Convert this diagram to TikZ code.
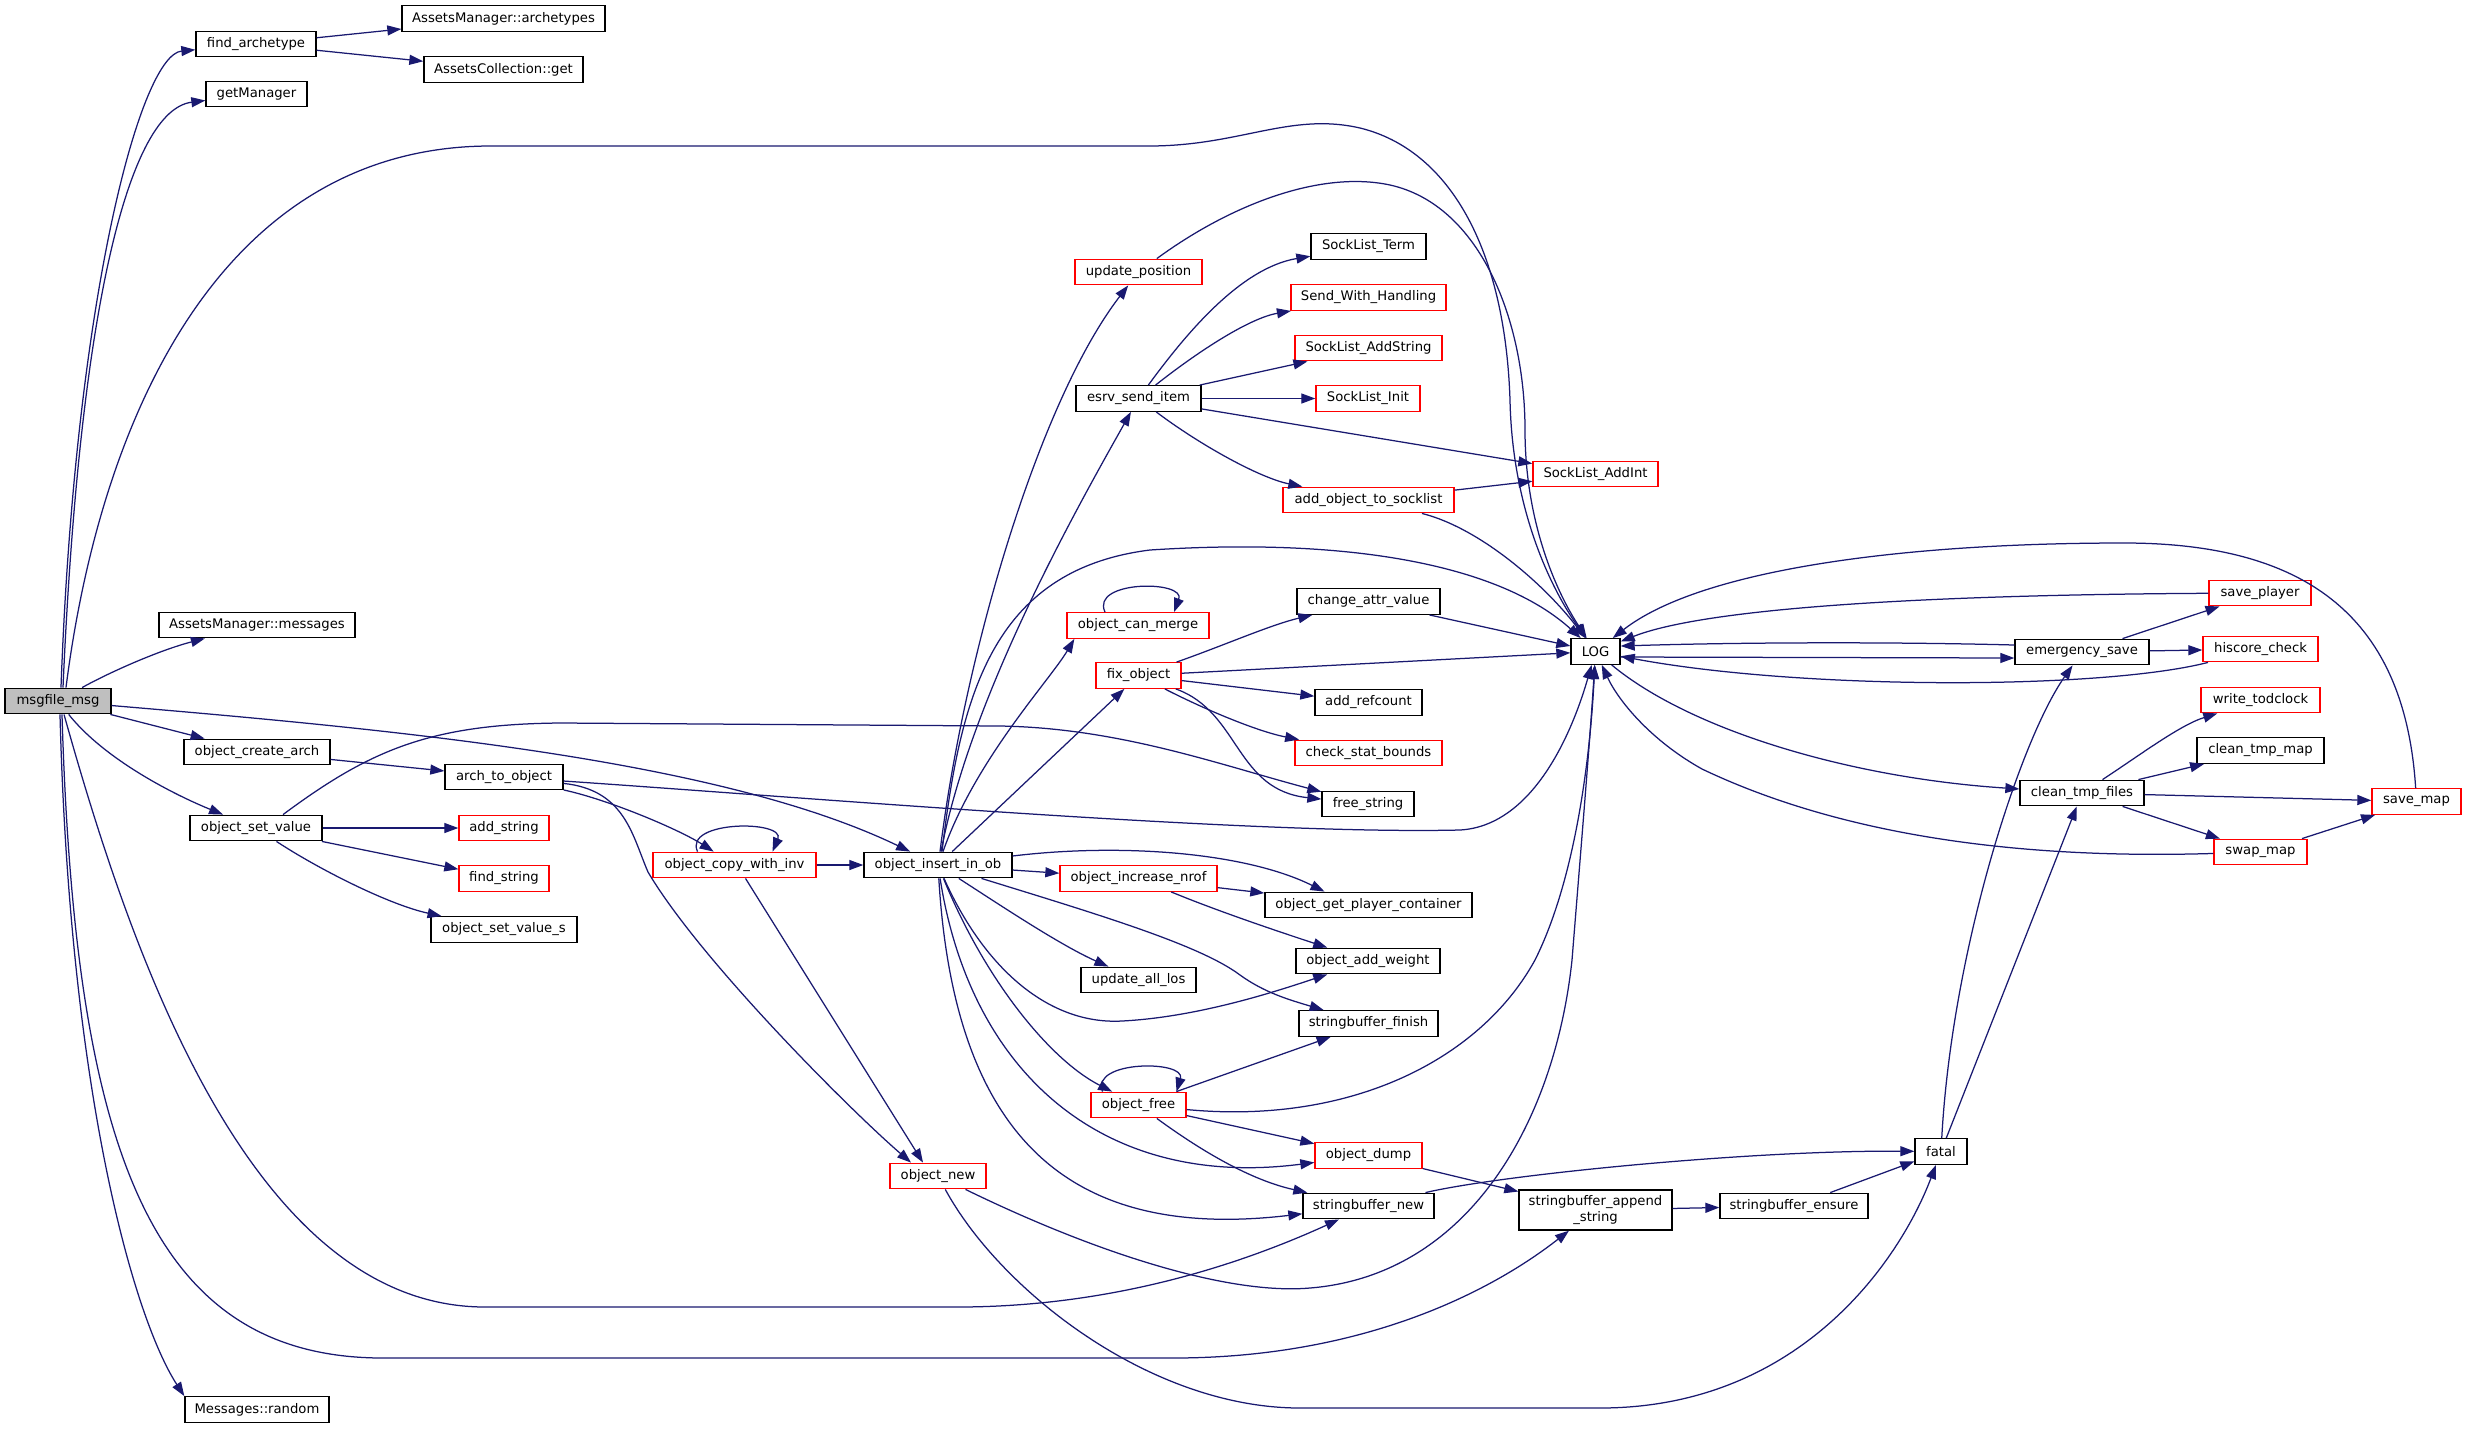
\documentclass[tikz,border=0pt]{standalone}
\usepackage{fontspec}
\setmainfont{DejaVu Sans}
\usetikzlibrary{arrows.meta}
\definecolor{midnight}{HTML}{191970}
\definecolor{nodegray}{HTML}{BFBFBF}
\tikzset{
  fn/.style={draw=black, fill=white, line width=1.35pt, minimum height=25.5pt, inner sep=0pt,
    font=\fontsize{13.2pt}{15.5pt}\selectfont},
  fnr/.style={fn, draw=red},
  edge/.style={draw=midnight, line width=1.25pt, -{Triangle[length=14pt,width=10pt]}},
}
\begin{document}
\begin{tikzpicture}[x=1pt,y=-1pt]
\fill[white] (0,0) rectangle (2467,1428);
\useasboundingbox (0,0) rectangle (2467,1428);

% ---------------- nodes ----------------
\node[fn, minimum width=120pt] (fa) at (256,44) {find\_archetype};
\node[fn, minimum width=203pt] (ama) at (503.5,18.5) {AssetsManager::archetypes};
\node[fn, minimum width=159pt] (acg) at (503.5,69.5) {AssetsCollection::get};
\node[fn, minimum width=101pt] (gm) at (256.5,94) {getManager};
\node[fn, minimum width=196pt] (amm) at (257,625) {AssetsManager::messages};
\node[fn, fill=nodegray, minimum width=106pt] (msg) at (58,701) {msgfile\_msg};
\node[fn, minimum width=146pt] (oca) at (257,752) {object\_create\_arch};
\node[fn, minimum width=118pt] (ato) at (504,777) {arch\_to\_object};
\node[fn, minimum width=132pt] (osv) at (256,828) {object\_set\_value};
\node[fnr, minimum width=90pt] (as) at (504,828) {add\_string};
\node[fnr, minimum width=90pt] (fs) at (504,878.5) {find\_string};
\node[fn, minimum width=146pt] (osvs) at (504,929.5) {object\_set\_value\_s};
\node[fnr, minimum width=163pt] (ocwi) at (734.5,865) {object\_copy\_with\_inv};
\node[fn, minimum width=148pt] (oiio) at (938,865) {object\_insert\_in\_ob};
\node[fnr, minimum width=96pt] (onew) at (938,1176) {object\_new};
\node[fn, minimum width=144pt] (mr) at (257,1409.5) {Messages::random};
\node[fnr, minimum width=127pt] (up) at (1138.5,272) {update\_position};
\node[fn, minimum width=125pt] (esi) at (1138.5,398.5) {esrv\_send\_item};
\node[fn, minimum width=115pt] (slt) at (1368.5,246.5) {SockList\_Term};
\node[fnr, minimum width=155pt] (swh) at (1368.5,297.5) {Send\_With\_Handling};
\node[fnr, minimum width=147pt] (slas) at (1368.5,348) {SockList\_AddString};
\node[fnr, minimum width=104pt] (sli) at (1368,398.5) {SockList\_Init};
\node[fnr, minimum width=125pt] (slai) at (1595.5,474) {SockList\_AddInt};
\node[fnr, minimum width=171pt] (aots) at (1368.5,500) {add\_object\_to\_socklist};
\node[fn, minimum width=49pt] (lg) at (1595.5,651.5) {LOG};
\node[fn, minimum width=143pt] (cav) at (1368.5,601.5) {change\_attr\_value};
\node[fnr, minimum width=142pt] (ocm) at (1138,625.5) {object\_can\_merge};
\node[fnr, minimum width=85pt] (fo) at (1138.5,675.5) {fix\_object};
\node[fn, minimum width=107pt] (arc) at (1368.5,702.5) {add\_refcount};
\node[fnr, minimum width=147pt] (csb) at (1368.5,753) {check\_stat\_bounds};
\node[fn, minimum width=92pt] (fstr) at (1368,804) {free\_string};
\node[fnr, minimum width=157pt] (oin) at (1138.5,878.5) {object\_increase\_nrof};
\node[fn, minimum width=207pt] (ogpc) at (1368.5,905) {object\_get\_player\_container};
\node[fn, minimum width=144pt] (oaw) at (1368,961) {object\_add\_weight};
\node[fn, minimum width=115pt] (ual) at (1138.5,980) {update\_all\_los};
\node[fn, minimum width=139pt] (sbf) at (1368.5,1023.5) {stringbuffer\_finish};
\node[fnr, minimum width=95pt] (of) at (1138.5,1105) {object\_free};
\node[fnr, minimum width=107pt] (od) at (1368.5,1155.5) {object\_dump};
\node[fn, minimum width=131pt] (sbn) at (1368.5,1206) {stringbuffer\_new};
\node[fn, minimum width=153pt, minimum height=40pt, align=center] (sbas) at (1595.5,1210) {stringbuffer\_append\\\_string};
\node[fn, minimum width=148pt] (sbe) at (1794,1206) {stringbuffer\_ensure};
\node[fn, minimum width=52pt] (fatal) at (1941,1151.5) {fatal};
\node[fn, minimum width=134pt] (es) at (2082,652) {emergency\_save};
\node[fnr, minimum width=102pt] (sp) at (2260,593) {save\_player};
\node[fnr, minimum width=115pt] (hc) at (2260.5,649) {hiscore\_check};
\node[fnr, minimum width=119pt] (wtc) at (2260.5,700) {write\_todclock};
\node[fn, minimum width=127pt] (ctm) at (2260.5,750.5) {clean\_tmp\_map};
\node[fn, minimum width=124pt] (ctf) at (2082,793) {clean\_tmp\_files};
\node[fnr, minimum width=89pt] (smap) at (2416.5,801.5) {save\_map};
\node[fnr, minimum width=93pt] (swm) at (2260.5,852) {swap\_map};

% ---------------- edges ----------------
% find_archetype
\draw[edge] (fa) -- (ama);
\draw[edge] (fa) -- (acg);
% msgfile_msg
\draw[edge] ([xshift=3pt]msg.north) .. controls (75,300) and (140,55) .. (fa);
\draw[edge] ([xshift=5pt]msg.north) .. controls (80,300) and (130,110) .. (gm);
\draw[edge] ([xshift=8pt]msg.north) .. controls (100,420) and (220,146) .. (491,146) -- (1149,146)
   .. controls (1240,146) and (1290,112) .. (1360,128)
   .. controls (1450,150) and (1505,250) .. (1510,400)
   .. controls (1512,500) and (1545,580) .. (lg);
\draw[edge] (msg) .. controls (110,672) and (160,650) .. (amm);
\draw[edge] (msg) .. controls (400,730) and (720,760) .. (oiio);
\draw[edge] (msg) -- (oca);
\draw[edge] (msg) .. controls (105,760) and (175,795) .. (osv);
\draw[edge] ([xshift=2pt]msg.south) .. controls (70,1100) and (135,1320) .. (mr.north west);
\draw[edge] ([xshift=6pt]msg.south) .. controls (130,950) and (250,1307) .. (485,1307) -- (957,1307)
   .. controls (1120,1307) and (1250,1260) .. (sbn);
\draw[edge] ([xshift=4pt]msg.south) .. controls (75,1150) and (150,1358) .. (383,1358) -- (1173,1358)
   .. controls (1350,1358) and (1480,1300) .. (sbas);
% object_create_arch, object_set_value
\draw[edge] (oca) -- (ato);
\draw[edge] (osv) -- (as);
\draw[edge] (osv) -- (fs);
\draw[edge] (osv) .. controls (320,870) and (390,905) .. (osvs);
\draw[edge] ([xshift=27pt]osv.north) .. controls (370,750) and (430,724) .. (561,723) -- (1000,726)
   .. controls (1120,728) and (1220,765) .. (fstr);
% arch_to_object
\draw[edge] (ato) .. controls (800,797) and (1250,835) .. (1460,830)
   .. controls (1530,826) and (1570,740) .. (lg);
\draw[edge] (ato) .. controls (610,800) and (680,830) .. (ocwi);
\draw[edge] (ato) .. controls (625,790) and (632,835) .. (648,872)
   .. controls (700,960) and (850,1110) .. ([xshift=-27pt]onew.north);
% object_copy_with_inv
\draw[edge] ([xshift=-37pt]ocwi.north) .. controls (683,820) and (786,820) .. ([xshift=38pt]ocwi.north);
\draw[edge] (ocwi) -- (oiio);
\draw[edge] ([xshift=11pt]ocwi.south) -- ([xshift=-15pt]onew.north);
% object_insert_in_ob
\draw[edge] ([xshift=2pt]oiio.north) .. controls (965,650) and (1040,400) .. (up);
\draw[edge] ([xshift=3pt]oiio.north) .. controls (970,700) and (1070,520) .. (esi);
\draw[edge] ([xshift=4pt]oiio.north) .. controls (960,700) and (990,570) .. (1150,550)
   .. controls (1350,537) and (1500,565) .. (lg);
\draw[edge] ([xshift=5pt]oiio.north) .. controls (975,760) and (1050,680) .. ([xshift=8pt]ocm.south west);
\draw[edge] (oiio) -- (fo);
\draw[edge] (oiio) -- (oin);
\draw[edge] (oiio) .. controls (1120,843) and (1245,852) .. ([xshift=-44pt]ogpc.north);
\draw[edge] (oiio) .. controls (1000,905) and (1060,945) .. (ual);
\draw[edge] (oiio) .. controls (985,970) and (1050,1025) .. (1122,1021)
   .. controls (1200,1017) and (1280,990) .. (oaw);
\draw[edge] (oiio) .. controls (1100,915) and (1200,945) .. (1240,975)
   .. controls (1265,993) and (1290,1000) .. (sbf);
\draw[edge] (oiio) .. controls (985,980) and (1050,1060) .. (of);
\draw[edge] (oiio) .. controls (970,1070) and (1100,1190) .. (od);
\draw[edge] (oiio) .. controls (955,1150) and (1080,1240) .. (sbn);
% update_position
\draw[edge] (up) .. controls (1230,205) and (1320,170) .. (1390,185)
   .. controls (1480,205) and (1525,320) .. (1525,430)
   .. controls (1525,520) and (1555,590) .. (lg);
% esrv_send_item
\draw[edge] (esi) .. controls (1185,335) and (1240,268) .. (slt);
\draw[edge] (esi) .. controls (1200,350) and (1250,318) .. (swh);
\draw[edge] (esi) -- (slas);
\draw[edge] (esi) -- (sli);
\draw[edge] (esi) -- (slai);
\draw[edge] (esi) .. controls (1200,445) and (1260,478) .. (aots);
% add_object_to_socklist
\draw[edge] (aots) -- (slai);
\draw[edge] (aots) .. controls (1480,528) and (1545,585) .. (lg);
% object_can_merge
\draw[edge] ([xshift=-33pt]ocm.north) .. controls (1090,580) and (1186,580) .. ([xshift=36pt]ocm.north);
% fix_object
\draw[edge] (fo) .. controls (1225,645) and (1270,625) .. (cav);
\draw[edge] (fo) -- (lg);
\draw[edge] (fo) -- (arc);
\draw[edge] (fo) .. controls (1210,712) and (1260,732) .. (csb);
\draw[edge] (fo) .. controls (1240,712) and (1235,790) .. (fstr);
\draw[edge] (cav) -- (lg);
% object_increase_nrof
\draw[edge] (oin) -- (ogpc);
\draw[edge] (oin) .. controls (1220,912) and (1280,932) .. (oaw);
% object_free
\draw[edge] ([xshift=-36pt]of.north) .. controls (1090,1060) and (1186,1060) .. ([xshift=38pt]of.north);
\draw[edge] (of) -- (sbf);
\draw[edge] (of) .. controls (1350,1125) and (1480,1060) .. (1535,960)
   .. controls (1575,880) and (1590,760) .. (lg);
\draw[edge] (of) -- (od);
\draw[edge] (of) .. controls (1200,1150) and (1250,1180) .. (sbn);
% stringbuffer chain
\draw[edge] (od) -- (sbas);
\draw[edge] (sbas) -- (sbe);
\draw[edge] (sbe) -- (fatal);
\draw[edge] (sbn) .. controls (1500,1175) and (1750,1150) .. (fatal);
% object_new
\draw[edge] (onew) .. controls (1100,1255) and (1230,1295) .. (1310,1288)
   .. controls (1470,1275) and (1555,1120) .. (1572,960)
   .. controls (1580,860) and (1590,740) .. (lg);
\draw[edge] (onew) .. controls (1000,1290) and (1150,1408) .. (1300,1408) -- (1600,1408)
   .. controls (1800,1408) and (1900,1260) .. (fatal);
% fatal
\draw[edge] (fatal) .. controls (1952,950) and (2020,740) .. (es);
\draw[edge] (fatal) -- (ctf);
% LOG / emergency_save
\draw[edge] ([yshift=-5.5pt]lg.east) -- ([yshift=-6pt]es.west);
\draw[edge] ([yshift=7pt]es.west) .. controls (1900,642) and (1750,642) .. ([yshift=5.5pt]lg.east);
\draw[edge] (es) -- (sp);
\draw[edge] (es) -- (hc);
\draw[edge] (sp) .. controls (1900,595) and (1700,610) .. (lg);
\draw[edge] (hc) .. controls (2100,690) and (1800,690) .. (lg);
\draw[edge] (lg) .. controls (1690,730) and (1850,778) .. (ctf);
% clean_tmp_files
\draw[edge] (ctf) .. controls (2140,755) and (2180,725) .. (wtc);
\draw[edge] (ctf) -- (ctm);
\draw[edge] (ctf) -- (smap);
\draw[edge] (ctf) -- (swm);
% swap_map, save_map
\draw[edge] (swm) -- (smap);
\draw[edge] (swm) .. controls (2000,860) and (1830,830) .. (1702,769)
   .. controls (1650,740) and (1618,700) .. (lg);
\draw[edge] (smap) .. controls (2405,620) and (2310,543) .. (2124,543)
   .. controls (1900,543) and (1700,570) .. (lg);
\end{tikzpicture}
\end{document}
